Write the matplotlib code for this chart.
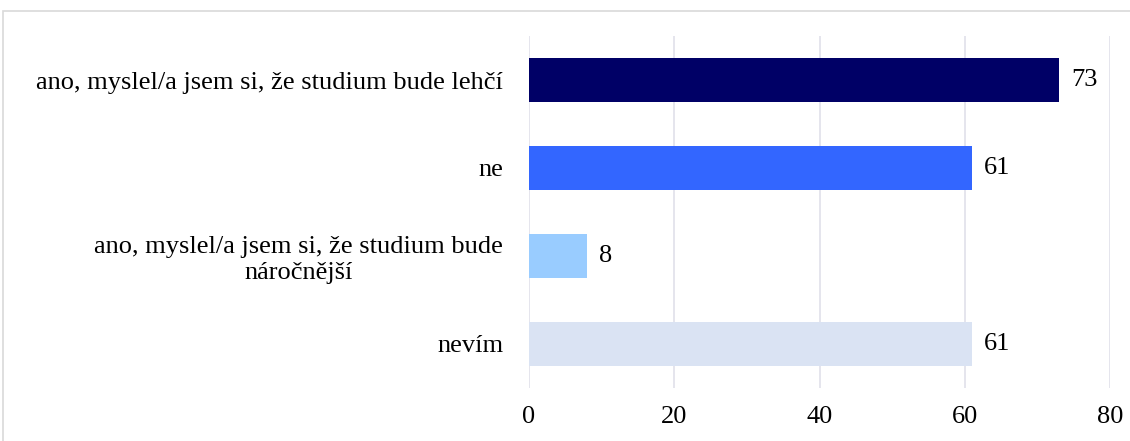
import matplotlib
matplotlib.use('Agg')
import matplotlib.pyplot as plt
from matplotlib.patches import Rectangle

# Data
categories = ['ano, myslel/a jsem si, že studium bude lehčí',
              'ne',
              'ano, myslel/a jsem si, že studium bude\nnáročnější',
              'nevím']
values = [73, 61, 8, 61]
bar_colors = ['#000066', '#3366FF', '#99CCFF', '#DAE3F3']
x_ticks = [0, 20, 40, 60, 80]

plt.rcParams['font.family'] = ['Liberation Serif', 'DejaVu Serif']

fig = plt.figure(figsize=(11.3, 4.41), dpi=100)
ax = fig.add_axes([529 / 1130, 1 - 388 / 441, (1110 - 529) / 1130, (388 - 36) / 441])

# outer frame of the chart (cropped on right/bottom in the reference)
fig.patches.append(Rectangle((3 / 1130, -0.1), 1.2, 1 - 11 / 441 + 0.1,
                             transform=fig.transFigure, fill=False,
                             edgecolor='#D9D9D9', linewidth=1.2))

pos = list(range(len(categories)))
ax.barh(pos, values, height=0.5, color=bar_colors, zorder=3)
for p, v in zip(pos, values):
    ax.text(v + 1.6, p, str(v), va='center', ha='left', fontsize=19)

ax.set_ylim(len(categories) - 0.5, -0.5)
ax.set_xlim(0, 80)
ax.set_xticks(x_ticks)
ax.set_xticklabels([str(t) for t in x_ticks], fontsize=19)
ax.set_yticks(pos)
ax.set_yticklabels(categories, fontsize=19, multialignment='center')
ax.tick_params(axis='both', length=0)
ax.tick_params(axis='y', pad=18.5)
ax.tick_params(axis='x', pad=13)
ax.grid(axis='x', color='#E0E0EA', linewidth=1.2, zorder=0)
for s in ax.spines.values():
    s.set_visible(False)

plt.savefig('out.png', dpi=100)
plt.close()
